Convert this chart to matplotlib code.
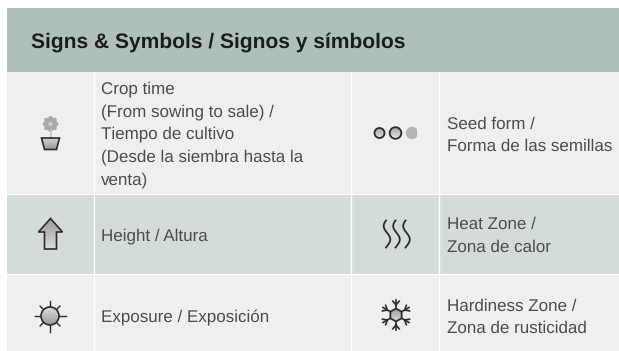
import numpy as np
import matplotlib
matplotlib.use("Agg")
import matplotlib.pyplot as plt
from matplotlib.patches import Rectangle, Polygon, Circle

W, H = 619, 351
title = "Signs & Symbols / Signos y símbolos"
left_labels = ["Crop time\n(From sowing to sale) /\nTiempo de cultivo\n(Desde la siembra hasta la\nventa)",
               "Height / Altura", "Exposure / Exposición"]
right_labels = ["Seed form /\nForma de las semillas", "Heat Zone /\nZona de calor",
                "Hardiness Zone /\nZona de rusticidad"]
row_edges = [72, 194, 274, 351]
col_edges = [7, 93.5, 351, 439, 619]
row_colors = ["#eef0ee", "#d3dcd8", "#eef0ee"]
header_color = "#afc0ba"

plt.rcParams["font.family"] = ["Liberation Sans", "DejaVu Sans"]
plt.rcParams["text.hinting"] = "no_hinting"
plt.rcParams["text.hinting_factor"] = 1
fig = plt.figure(figsize=(W / 100, H / 100), dpi=100)
ax = fig.add_axes([0, 0, 1, 1])
ax.set_xlim(0, W)
ax.set_ylim(H, 0)
ax.axis("off")


def graded(patch, top="#8e8e92", bottom="#d6d6d8"):
    """Add a patch outline with a vertical grey gradient clipped inside it."""
    patch.set_zorder(4)
    patch.set_facecolor("none")
    ax.add_patch(patch)
    box = patch.get_window_extent()
    (x0, y0), (x1, y1) = ax.transData.inverted().transform([[box.x0, box.y0], [box.x1, box.y1]])
    c0 = np.array(matplotlib.colors.to_rgb(top))
    c1 = np.array(matplotlib.colors.to_rgb(bottom))
    g = np.linspace(0, 1, 32)[:, None, None] * (c1 - c0) + c0
    im = ax.imshow(g, extent=(x0, x1, max(y0, y1), min(y0, y1)), aspect="auto", zorder=3,
                   interpolation="bilinear")
    im.set_clip_path(patch)


ax.add_patch(Rectangle((7, 8), W - 7, 64, fc=header_color, ec="none"))
ax.text(31, 42, title, fontsize=15, fontweight="bold", color="#1c1c1c", va="center")
for i, c in enumerate(row_colors):
    ax.add_patch(Rectangle((7, row_edges[i]), W - 7, row_edges[i + 1] - row_edges[i], fc=c, ec="none"))
    if i:
        ax.plot([7, W], [row_edges[i]] * 2, color="white", lw=0.8)
for x in col_edges[1:-1]:
    ax.plot([x, x], [72, 351], color="white", lw=1)

for y, s in zip([134.5, 236, 318], left_labels):
    ax.text(101, y, s, fontsize=12.2, color="#4c4c4c", va="center", linespacing=1.55)
for y, s in zip([135.5, 236, 317.5], right_labels):
    ax.text(447, y, s, fontsize=12.2, color="#4c4c4c", va="center", linespacing=1.55)

DK = "#2b2b2b"
# flower
ax.plot([50.5, 50.5], [130, 138], color="#c4c4c4", lw=1.4)
ax.add_patch(Circle((50.5, 124), 6.8, fc="#a9a9a9", ec="none"))
for a in np.linspace(0, 2 * np.pi, 8, endpoint=False):
    ax.add_patch(Circle((50.5 + 6 * np.cos(a), 124 + 6 * np.sin(a)), 2, fc="#a9a9a9", ec="none"))
ax.add_patch(Circle((50.5, 124), 2, fc="#cfcfcf", ec="none"))
graded(Polygon([[41.5, 138], [59.5, 138], [56.5, 149.5], [44.5, 149.5]], ec=DK, lw=1.2), "#d8d8da", "#9a9a9e")
# arrow
graded(Polygon([[50.5, 218.5], [62.5, 232], [56.5, 232], [56.5, 249], [44.5, 249], [44.5, 232], [38.5, 232]],
               ec=DK, lw=1.2), "#9a9a9e", "#dcdcde")
# sun
graded(Circle((50, 316), 9, ec=DK, lw=1.2), "#dcdcde", "#9a9a9e")
for a in np.arange(8) * np.pi / 4:
    r0, r1 = 9, 15.5 if round(a / (np.pi / 4)) % 2 == 0 else 14
    ax.plot([50 + r0 * np.cos(a), 50 + r1 * np.cos(a)], [316 + r0 * np.sin(a), 316 + r1 * np.sin(a)],
            color=DK, lw=1)
# seeds
graded(Circle((379.5, 133), 5, ec=DK, lw=1.3), "#a4a4a8", "#e4e4e6")
graded(Circle((395.5, 133), 5.8, ec=DK, lw=1.3), "#a4a4a8", "#e4e4e6")
ax.add_patch(Circle((412, 133), 6.2, fc="#b4b4b6", ec="none"))
ax.add_patch(Rectangle((417, 125), 4, 16, fc=row_colors[0], ec="none"))
# heat
t = np.linspace(0, 1, 40)
for x in [387, 396.5, 406.5]:
    ax.plot(x - 3.3 * np.sin(2 * np.pi * t + 0.3), 220.5 + 27 * t, color=DK, lw=1.3)
# snowflake
cx, cy = 396, 315
hexa = [[cx + 6.5 * np.cos(a), cy + 6.5 * np.sin(a)] for a in np.arange(6) * np.pi / 3 + np.pi / 6]
graded(Polygon(hexa, ec=DK, lw=1.3), "#9a9a9e", "#d8d8da")
for a in np.arange(6) * np.pi / 3 + np.pi / 2:
    ux, uy = np.cos(a), np.sin(a)
    ax.plot([cx + 6.5 * ux, cx + 15 * ux], [cy + 6.5 * uy, cy + 15 * uy], color=DK, lw=1.2)
    for d in (-0.7, 0.7):
        ax.plot([cx + 10 * ux, cx + 10 * ux + 5 * np.cos(a + d)],
                [cy + 10 * uy, cy + 10 * uy + 5 * np.sin(a + d)], color=DK, lw=1.2)

ax.set_xlim(0, W)
ax.set_ylim(H, 0)
fig.savefig("out.png", dpi=100, facecolor="white")
